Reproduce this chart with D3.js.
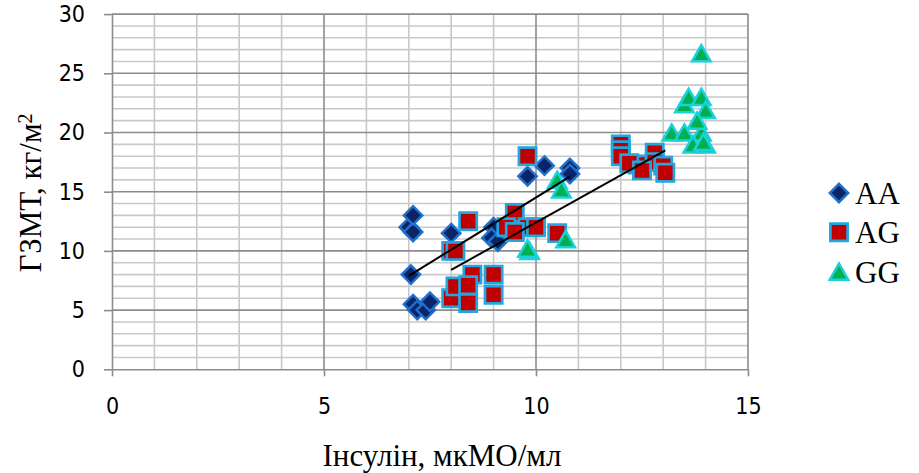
<!DOCTYPE html>
<html>
<head>
<meta charset="utf-8">
<script src="https://cdn.jsdelivr.net/npm/d3@7"></script>
<style>
  html, body { margin: 0; padding: 0; background: #ffffff; }
  svg { display: block; }
</style>
</head>
<body>
<svg id="chart" width="919" height="473"></svg>
<script>
// Insulin vs. body-fat index, by genotype
const aaX = [7.0, 7.1, 7.1, 7.05, 7.1, 7.2, 7.4, 7.5, 8.0, 9.0, 8.95, 9.1, 9.8, 10.2, 10.8, 10.8];
const aaY = [12.0, 11.6, 13.0, 8.0, 5.5, 5.0, 5.0, 5.7, 11.5, 12.0, 11.1, 10.8, 16.3, 17.2, 17.0, 16.5];

const agX = [8.4, 8.0, 8.1, 8.5, 9.0, 8.0, 8.1, 8.4, 8.4, 9.0, 9.8, 9.5, 9.3, 9.8, 10.0, 9.5, 10.5,
             12.0, 12.0, 12.0, 12.4, 12.2, 12.8, 12.8, 12.5, 13.0, 13.05];
const agY = [12.5, 10.0, 10.0, 8.0, 8.0, 6.0, 7.0, 7.1, 5.6, 6.3, 18.0, 13.2, 12.0, 12.0, 12.0, 11.6, 11.5,
             19.0, 18.5, 18.0, 17.3, 17.4, 18.3, 17.5, 16.8, 17.2, 16.6];

const ggX = [9.85, 9.8, 10.7, 10.5, 10.6, 13.2, 13.5, 13.9, 13.5, 13.6, 13.9, 14.0, 13.8, 13.7, 14.0, 13.95, 13.9];
const ggY = [10.0, 10.2, 11.0, 16.0, 15.2, 20.0, 20.0, 20.0, 22.4, 23.0, 23.0, 21.9, 21.0, 19.0, 19.0, 19.2, 26.7];

// linear trend lines (slope, intercept) for AA and AG
const aaTrend = [2.204, -7.53];
const agTrend = [1.998, -7.59];

const xTicks = [0, 5, 10, 15];
const yTicks = [0, 5, 10, 15, 20, 25, 30];
const seriesNames = ["AA", "AG", "GG"];

const xTitle = "Інсулін, мкМО/мл";
const yTitle = "ГЗМТ, кг/м";

const svg = d3.select("#chart");
const x = d3.scaleLinear().domain([0, 15]).range([112, 748]);
const y = d3.scaleLinear().domain([0, 30]).range([369.3, 14.1]);

const minorColor = "#c9c9c9";
const majorColor = "#8c8c8c";

// grid: minor every 1 unit, major every 5
const grid = svg.append("g");
grid.selectAll("line.vminor").data(d3.range(1, 15).filter(v => v % 5))
  .join("line").attr("x1", d => x(d)).attr("x2", d => x(d))
  .attr("y1", y(0)).attr("y2", y(30)).attr("stroke", minorColor).attr("stroke-width", 1.6);
grid.selectAll("line.hminor").data(d3.range(1, 30).filter(v => v % 5))
  .join("line").attr("y1", d => y(d)).attr("y2", d => y(d))
  .attr("x1", x(0)).attr("x2", x(15)).attr("stroke", minorColor).attr("stroke-width", 1.6);
grid.selectAll("line.vmajor").data(xTicks.slice(1))
  .join("line").attr("x1", d => x(d)).attr("x2", d => x(d))
  .attr("y1", y(0)).attr("y2", y(30)).attr("stroke", majorColor).attr("stroke-width", 1.6);
grid.selectAll("line.hmajor").data(yTicks.slice(1))
  .join("line").attr("y1", d => y(d)).attr("y2", d => y(d))
  .attr("x1", x(0)).attr("x2", x(15)).attr("stroke", majorColor).attr("stroke-width", 1.6);

// axes
const tickFont = "'DejaVu Sans Condensed', 'DejaVu Sans', sans-serif";
const yAxis = svg.append("g").attr("transform", `translate(${x(0)},0)`)
  .call(d3.axisLeft(y).tickValues(yTicks).tickSize(8).tickPadding(19).tickSizeOuter(0));
const xAxis = svg.append("g").attr("transform", `translate(0,${y(0)})`)
  .call(d3.axisBottom(x).tickValues(xTicks).tickSize(7).tickPadding(21).tickSizeOuter(0));
[xAxis, yAxis].forEach(a => {
  a.select(".domain").attr("stroke", majorColor).attr("stroke-width", 1.6);
  a.selectAll(".tick line").attr("stroke", majorColor).attr("stroke-width", 1.6);
  a.selectAll(".tick text").attr("fill", "#000").style("font-family", tickFont).style("font-size", "23px");
});

// markers
const diamond = r => `M0,${-r}L${r},0L0,${r}L${-r},0Z`;
const square = s => `M${-s/2},${-s/2}H${s/2}V${s/2}H${-s/2}Z`;
const triangle = (w, h) => `M0,${-h/2}L${w/2},${h/2}L${-w/2},${h/2}Z`;

const styles = {
  AA: { path: diamond(9.2), fill: "#0a2466", stroke: "#1f6fcc", sw: 2.5 },
  AG: { path: square(17.2), fill: "#c00000", stroke: "#21a6e0", sw: 2.7 },
  GG: { path: triangle(18.5, 16.2), fill: "#00b050", stroke: "#1ad2da", sw: 2.5 }
};

const series = [
  { name: "AA", xs: aaX, ys: aaY },
  { name: "AG", xs: agX, ys: agY },
  { name: "GG", xs: ggX, ys: ggY }
];

series.forEach(s => {
  const st = styles[s.name];
  svg.append("g").selectAll("path").data(d3.zip(s.xs, s.ys)).join("path")
    .attr("d", st.path)
    .attr("transform", d => `translate(${x(d[0])},${y(d[1])})`)
    .attr("fill", st.fill).attr("stroke", st.stroke).attr("stroke-width", st.sw)
    .attr("stroke-linejoin", "miter");
});

// trend lines over each series' x range
const trends = [
  { xs: aaX, c: aaTrend },
  { xs: agX, c: agTrend }
];
const line = d3.line().x(d => x(d[0])).y(d => y(d[1]));
trends.forEach(t => {
  const [lo, hi] = d3.extent(t.xs);
  const pts = [lo, hi].map(v => [v, t.c[0] * v + t.c[1]]);
  svg.append("path").attr("d", line(pts)).attr("fill", "none")
    .attr("stroke", "#000").attr("stroke-width", 2);
});

// axis titles
const serif = "'Liberation Serif', 'Times New Roman', serif";
svg.append("text").attr("x", 442).attr("y", 466).attr("text-anchor", "middle")
  .style("font-family", serif).style("font-size", "31px").text(xTitle);
const yt = svg.append("text").attr("transform", "translate(41,193) rotate(-90)")
  .attr("text-anchor", "middle").style("font-family", serif).style("font-size", "31px");
yt.append("tspan").text(yTitle);
yt.append("tspan").attr("dy", "-0.45em").style("font-size", "20px").text("2");

// legend
const legend = svg.append("g");
seriesNames.forEach((name, i) => {
  const st = styles[name];
  const cy = 193 + i * 39.3;
  legend.append("path").attr("d", st.path).attr("transform", `translate(839,${cy})`)
    .attr("fill", st.fill).attr("stroke", st.stroke).attr("stroke-width", st.sw);
  legend.append("text").attr("x", 855).attr("y", cy + 11)
    .style("font-family", serif).style("font-size", "31px").attr("fill", "#000").text(name);
});
</script>
</body>
</html>
